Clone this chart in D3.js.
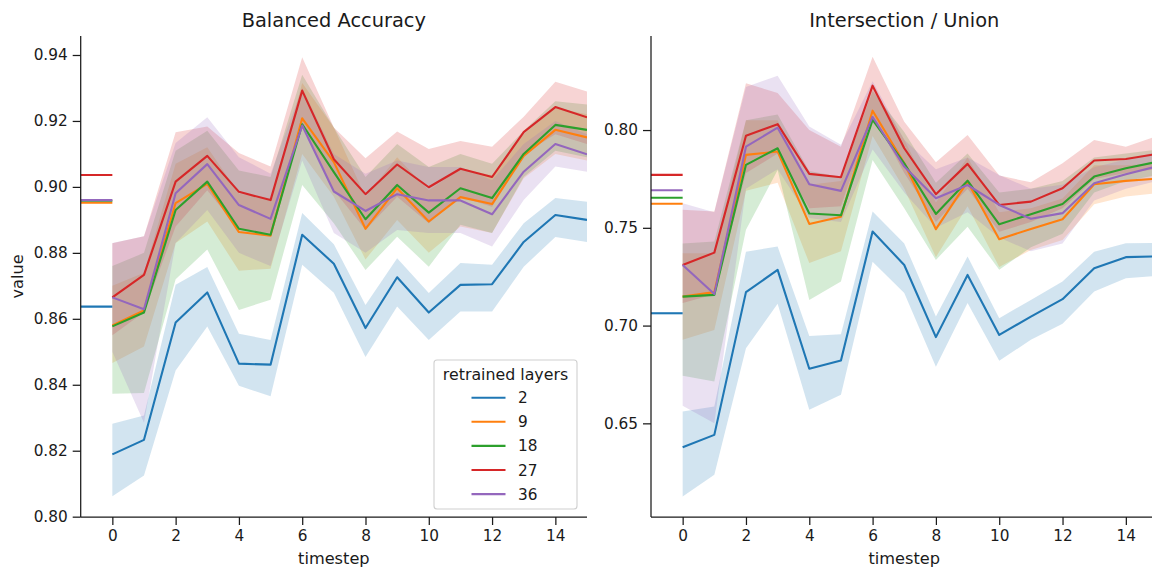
<!DOCTYPE html>
<html><head><meta charset="utf-8">
<script src="https://cdn.jsdelivr.net/npm/d3@7"></script>
<style>body{margin:0;background:#fff}text{font-family:"DejaVu Sans",sans-serif;fill:#1a1a1a}</style>
</head><body><svg id="c" width="1152" height="570"></svg>
<script>
// ---------- data ----------
const timesteps = [0,1,2,3,4,5,6,7,8,9,10,11,12,13,14,15];
const layers = ["2","9","18","27","36"];
const colors = ["#1f77b4","#ff7f0e","#2ca02c","#d62728","#9467bd"];
const xTicks = [0,2,4,6,8,10,12,14];
const baTicks = [0.80,0.82,0.84,0.86,0.88,0.90,0.92,0.94];
const iouTicks = [0.65,0.70,0.75,0.80];

// Balanced Accuracy
const ba_mean_2  = [0.8189,0.8233,0.8589,0.8680,0.8464,0.8461,0.8855,0.8767,0.8572,0.8726,0.8619,0.8703,0.8705,0.8833,0.8915,0.8900];
const ba_lo_2    = [0.8062,0.8125,0.8443,0.8577,0.8397,0.8365,0.8764,0.8679,0.8484,0.8637,0.8536,0.8622,0.8622,0.8758,0.8848,0.8833];
const ba_hi_2    = [0.8282,0.8307,0.8703,0.8757,0.8555,0.8536,0.8921,0.8826,0.8642,0.8784,0.8678,0.8769,0.8764,0.8890,0.8966,0.8955];
const ba_mean_9  = [0.8580,0.8625,0.8951,0.9009,0.8863,0.8852,0.9208,0.9075,0.8873,0.8996,0.8895,0.8969,0.8948,0.9094,0.9173,0.9150];
const ba_lo_9    = [0.8466,0.8516,0.8830,0.8895,0.8746,0.8752,0.9100,0.8970,0.8780,0.8900,0.8800,0.8880,0.8860,0.9026,0.9100,0.9080];
const ba_hi_9    = [0.8700,0.8740,0.9070,0.9120,0.8980,0.8960,0.9315,0.9180,0.8970,0.9090,0.8990,0.9055,0.9035,0.9160,0.9240,0.9220];
const ba_mean_18 = [0.8577,0.8619,0.8930,0.9016,0.8873,0.8855,0.9190,0.9045,0.8902,0.9006,0.8922,0.8996,0.8966,0.9100,0.9188,0.9173];
const ba_lo_18   = [0.8373,0.8375,0.8720,0.8810,0.8627,0.8658,0.9006,0.8890,0.8748,0.8849,0.8758,0.8885,0.8860,0.9030,0.9110,0.9090];
const ba_hi_18   = [0.8760,0.8800,0.9110,0.9170,0.9050,0.9030,0.9340,0.9180,0.9030,0.9130,0.9060,0.9100,0.9070,0.9170,0.9260,0.9250];
const ba_mean_27 = [0.8665,0.8733,0.9016,0.9094,0.8985,0.8960,0.9292,0.9084,0.8978,0.9068,0.8999,0.9055,0.9030,0.9166,0.9242,0.9211];
const ba_lo_27   = [0.8550,0.8620,0.8880,0.8990,0.8870,0.8860,0.9190,0.8990,0.8870,0.8970,0.8890,0.8970,0.8940,0.9100,0.9160,0.9130];
const ba_hi_27   = [0.8829,0.8850,0.9166,0.9183,0.9103,0.9062,0.9393,0.9180,0.9087,0.9168,0.9115,0.9139,0.9122,0.9213,0.9319,0.9289];
const ba_mean_36 = [0.8665,0.8629,0.8981,0.9069,0.8945,0.8903,0.9186,0.8986,0.8927,0.8978,0.8959,0.8959,0.8917,0.9046,0.9130,0.9099];
const ba_lo_36   = [0.8500,0.8285,0.8830,0.8930,0.8800,0.8760,0.9080,0.8860,0.8800,0.8869,0.8860,0.8860,0.8819,0.8960,0.9062,0.9046];
const ba_hi_36   = [0.8830,0.8850,0.9133,0.9211,0.9090,0.9040,0.9300,0.9100,0.9040,0.9080,0.9060,0.9060,0.9020,0.9130,0.9200,0.9160];
const ba_baseline = [0.8637,0.8952,0.8958,0.9036,0.8960];

// Intersection / Union
const iou_mean_2  = [0.6378,0.6441,0.7171,0.7285,0.6779,0.6821,0.7481,0.7310,0.6941,0.7259,0.6952,0.7046,0.7135,0.7293,0.7350,0.7354];
const iou_lo_2    = [0.6126,0.6237,0.6884,0.7111,0.6569,0.6646,0.7327,0.7166,0.6790,0.7115,0.6820,0.6927,0.7009,0.7174,0.7242,0.7254];
const iou_hi_2    = [0.6560,0.6586,0.7378,0.7404,0.6947,0.6956,0.7583,0.7420,0.7046,0.7353,0.7038,0.7131,0.7225,0.7378,0.7421,0.7422];
const iou_mean_9  = [0.7148,0.7171,0.7873,0.7890,0.7520,0.7557,0.8099,0.7830,0.7493,0.7736,0.7442,0.7494,0.7544,0.7723,0.7740,0.7752];
const iou_lo_9    = [0.6927,0.6978,0.7690,0.7730,0.7320,0.7380,0.7970,0.7700,0.7350,0.7610,0.7300,0.7387,0.7438,0.7620,0.7660,0.7677];
const iou_hi_9    = [0.7370,0.7370,0.8050,0.8050,0.7720,0.7740,0.8220,0.7950,0.7630,0.7860,0.7580,0.7600,0.7650,0.7820,0.7820,0.7830];
const iou_mean_18 = [0.7148,0.7157,0.7822,0.7907,0.7573,0.7564,0.8052,0.7830,0.7571,0.7741,0.7518,0.7570,0.7622,0.7762,0.7805,0.7838];
const iou_lo_18   = [0.6743,0.6714,0.7490,0.7796,0.7131,0.7225,0.7847,0.7600,0.7336,0.7506,0.7285,0.7400,0.7470,0.7680,0.7740,0.7770];
const iou_hi_18   = [0.7420,0.7430,0.8050,0.8080,0.7790,0.7760,0.8200,0.7990,0.7730,0.7880,0.7680,0.7700,0.7740,0.7860,0.7880,0.7900];
const iou_mean_27 = [0.7310,0.7373,0.7971,0.8030,0.7776,0.7759,0.8227,0.7907,0.7672,0.7827,0.7617,0.7634,0.7702,0.7844,0.7852,0.7878];
const iou_lo_27   = [0.7115,0.7160,0.7780,0.7880,0.7600,0.7610,0.8080,0.7780,0.7530,0.7700,0.7480,0.7530,0.7600,0.7750,0.7780,0.7800];
const iou_hi_27   = [0.7592,0.7583,0.8239,0.8190,0.8000,0.7915,0.8375,0.8043,0.7835,0.7975,0.7767,0.7733,0.7830,0.7949,0.7915,0.7970];
const iou_mean_36 = [0.7310,0.7161,0.7915,0.8012,0.7723,0.7689,0.8068,0.7813,0.7651,0.7719,0.7617,0.7546,0.7575,0.7728,0.7774,0.7815];
const iou_lo_36   = [0.6590,0.6500,0.7700,0.7800,0.7550,0.7530,0.7900,0.7680,0.7500,0.7580,0.7450,0.7380,0.7420,0.7640,0.7700,0.7740];
const iou_hi_36   = [0.7626,0.7580,0.8220,0.8278,0.8018,0.7925,0.8250,0.7950,0.7800,0.7860,0.7770,0.7700,0.7720,0.7810,0.7850,0.7890];
const iou_baseline = [0.7063,0.7623,0.7654,0.7771,0.7692];

// ---------- drawing ----------
const svg = d3.select("#c");
const TOP = 36, BOTTOM = 517;

function panel(opts){
  const {x0, x1, yDomain, yTicks, yFmt, title, means, los, his, baseline, ylabel, legend} = opts;
  const g = svg.append("g");
  const clipId = "clip" + Math.round(x0);
  svg.append("defs").append("clipPath").attr("id", clipId)
    .append("rect").attr("x", x0).attr("y", TOP).attr("width", x1 - x0).attr("height", BOTTOM - TOP);
  const x = d3.scaleLinear().domain([-1, 15]).range([x0, x1]);
  const y = d3.scaleLinear().domain(yDomain).range([BOTTOM, TOP]);
  const plot = g.append("g").attr("clip-path", `url(#${clipId})`);

  // bands
  layers.forEach((L, i) => {
    const area = d3.area().x((d, k) => x(timesteps[k])).y0((d, k) => y(los[i][k])).y1((d, k) => y(his[i][k]));
    plot.append("path").datum(timesteps).attr("d", area)
      .attr("fill", colors[i]).attr("fill-opacity", 0.2).attr("stroke", "none");
  });
  // lines
  layers.forEach((L, i) => {
    const line = d3.line().x((d, k) => x(timesteps[k])).y((d, k) => y(means[i][k]));
    plot.append("path").datum(timesteps).attr("d", line)
      .attr("fill", "none").attr("stroke", colors[i]).attr("stroke-width", 2.1)
      .attr("stroke-linejoin", "round").attr("stroke-linecap", "butt");
  });
  // baselines from x=-1 to x=0
  layers.forEach((L, i) => {
    plot.append("line").attr("x1", x(-1)).attr("x2", x(0))
      .attr("y1", y(baseline[i])).attr("y2", y(baseline[i]))
      .attr("stroke", colors[i]).attr("stroke-width", 2.1);
  });

  // axes
  const xAxis = d3.axisBottom(x).tickValues(xTicks).tickSize(8).tickPadding(5).tickFormat(d3.format("d"));
  const yAxis = d3.axisLeft(y).tickValues(yTicks).tickSize(8).tickPadding(5).tickFormat(d3.format(yFmt));
  const gx = g.append("g").attr("transform", `translate(0,${BOTTOM})`).call(xAxis);
  const gy = g.append("g").attr("transform", `translate(${x0},0)`).call(yAxis);
  [gx, gy].forEach(a => {
    a.select(".domain").attr("stroke", "#1a1a1a").attr("stroke-width", 1.25);
    a.selectAll(".tick line").attr("stroke", "#1a1a1a").attr("stroke-width", 1.25);
    a.selectAll(".tick text").attr("font-size", 15.3).attr("font-family", "DejaVu Sans").attr("fill", "#1a1a1a");
  });
  gx.select(".domain").attr("d", `M${x0},0H${x1}`);
  gy.select(".domain").attr("d", `M0,${BOTTOM}V${TOP}`);

  // title, labels
  g.append("text").attr("x", (x0 + x1) / 2).attr("y", 26.5).attr("text-anchor", "middle")
    .attr("font-size", 19.4).text(title);
  g.append("text").attr("x", (x0 + x1) / 2).attr("y", 564).attr("text-anchor", "middle")
    .attr("font-size", 16.2).text("timestep");
  if (ylabel) {
    g.append("text").attr("transform", `translate(23,${(TOP + BOTTOM) / 2}) rotate(-90)`)
      .attr("text-anchor", "middle").attr("font-size", 16.2).text(ylabel);
  }

  if (legend) {
    const lg = g.append("g");
    lg.append("rect").attr("x", 434).attr("y", 360).attr("width", 143).attr("height", 149)
      .attr("rx", 3).attr("fill", "#fff").attr("fill-opacity", 0.8)
      .attr("stroke", "#d0d0d0").attr("stroke-width", 1.1);
    lg.append("text").attr("x", 505.5).attr("y", 380).attr("text-anchor", "middle")
      .attr("font-size", 15.8).text("retrained layers");
    layers.forEach((L, i) => {
      const yy = 397.7 + i * 24.1;
      lg.append("line").attr("x1", 471.5).attr("x2", 505.5).attr("y1", yy).attr("y2", yy)
        .attr("stroke", colors[i]).attr("stroke-width", 2.1);
      lg.append("text").attr("x", 518).attr("y", yy + 5.5).attr("font-size", 15.3).text(L);
    });
  }
}

panel({
  x0: 80.7, x1: 587, yDomain: [0.7999, 0.94576], yTicks: baTicks, yFmt: ".2f",
  title: "Balanced Accuracy",
  means: [ba_mean_2, ba_mean_9, ba_mean_18, ba_mean_27, ba_mean_36],
  los: [ba_lo_2, ba_lo_9, ba_lo_18, ba_lo_27, ba_lo_36],
  his: [ba_hi_2, ba_hi_9, ba_hi_18, ba_hi_27, ba_hi_36],
  baseline: ba_baseline, ylabel: "value", legend: true
});
panel({
  x0: 651, x1: 1157.5, yDomain: [0.6021, 0.8481], yTicks: iouTicks, yFmt: ".2f",
  title: "Intersection / Union",
  means: [iou_mean_2, iou_mean_9, iou_mean_18, iou_mean_27, iou_mean_36],
  los: [iou_lo_2, iou_lo_9, iou_lo_18, iou_lo_27, iou_lo_36],
  his: [iou_hi_2, iou_hi_9, iou_hi_18, iou_hi_27, iou_hi_36],
  baseline: iou_baseline, ylabel: null, legend: false
});
</script></body></html>
